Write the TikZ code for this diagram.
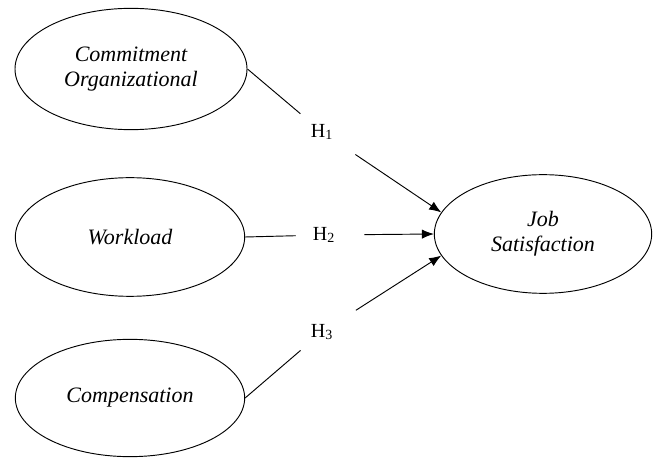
\documentclass[tikz,border=0pt]{standalone}
\usepackage{fontspec}
\setmainfont{Liberation Serif}
\usetikzlibrary{shapes.geometric,arrows.meta}
\begin{document}
\begin{tikzpicture}[x=0.75pt,y=-0.75pt]
    \tikzset{
        construct/.style={draw, ellipse, line width=0.7pt, inner sep=0pt, align=center, font=\fontsize{16.5}{19}\selectfont\itshape},
        hyp/.style={circle, minimum size=42pt, inner sep=0pt, font=\fontsize{15}{17}\selectfont},
        link/.style={line width=0.7pt},
        path/.style={line width=0.7pt, -{Latex[length=9pt,width=7pt]}, shorten <=9pt}
    }
    \useasboundingbox (0,0) rectangle (653,459);
    \draw node[construct, minimum width=174pt, minimum height=91pt] (co) at (131,69) {Commitment\\Organizational};
    \draw node[construct, minimum width=172pt, minimum height=89pt] (wl) at (130,237) {Workload};
    \draw node[construct, minimum width=172pt, minimum height=88pt] (cp) at (130,398) {Compensation};
    \draw node[construct, minimum width=163pt, minimum height=89pt] (js) at (543,234) {Job\\Satisfaction};
    \draw node[hyp] (h1) at (322,132) {H\textsubscript{1}};
    \draw node[hyp] (h2) at (324,235) {H\textsubscript{2}};
    \draw node[hyp] (h3) at (322,332) {H\textsubscript{3}};
    \foreach \x/\y in {%
        co/h1,wl/h2,cp/h3%
    }
    {
        \draw (\x.east) edge[link] (\y);
    }
    \draw (h1) edge[path] (js.168);
    \draw (h2) edge[path] (js.west);
    \draw (h3) edge[path] (js.192);
\end{tikzpicture}
\end{document}
